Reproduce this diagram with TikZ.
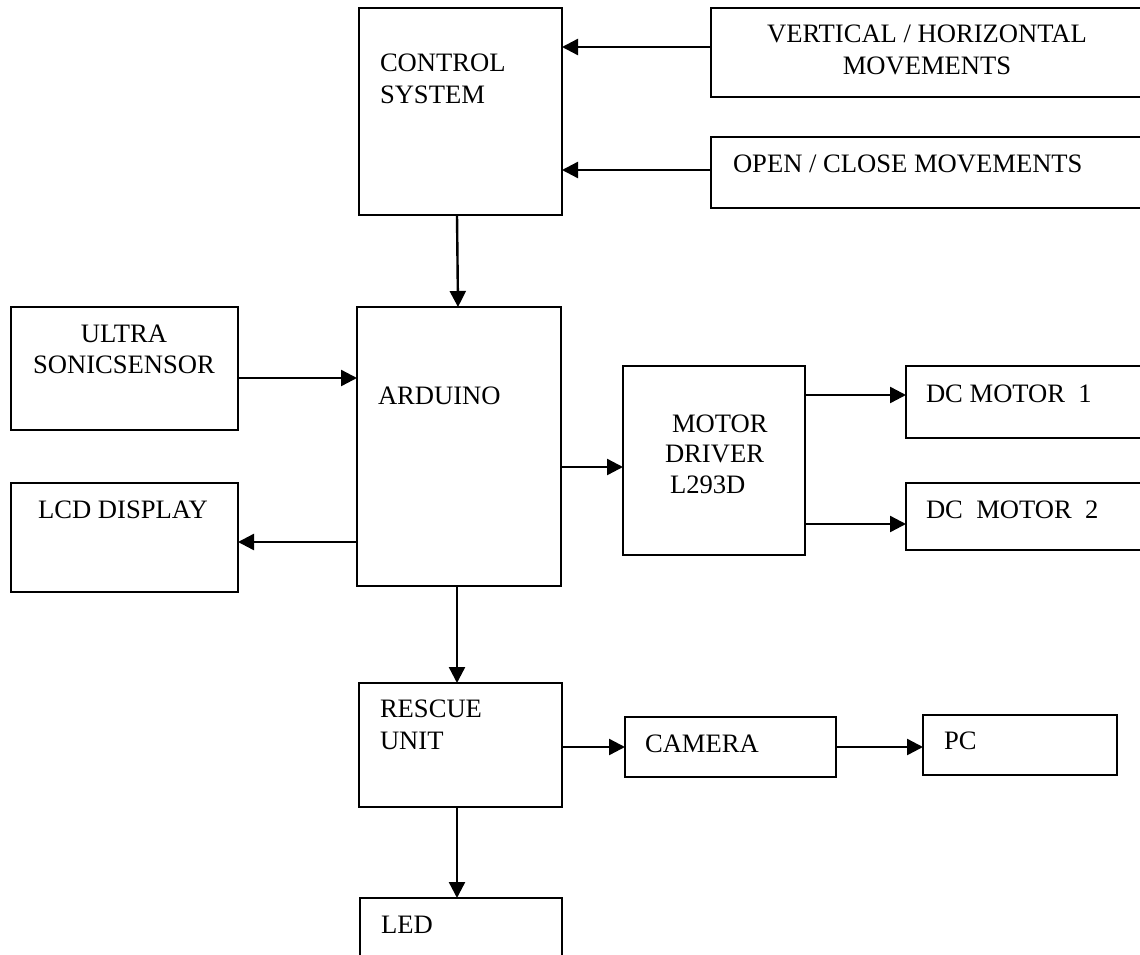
\documentclass[tikz,border=0pt]{standalone}
\usepackage{fontspec}
\setmainfont{Liberation Serif}
\usetikzlibrary{arrows.meta}
\begin{document}
\begin{tikzpicture}[x=1pt,y=-1pt,
  blk/.style={draw,line width=1.8pt,inner sep=0pt,outer sep=0pt,anchor=north west},
  lbl/.style={inner sep=0pt,outer sep=0pt,anchor=base west,font=\fontsize{26.6}{32}\selectfont},
  lblc/.style={inner sep=0pt,outer sep=0pt,anchor=base,font=\fontsize{26.6}{32}\selectfont},
  arr/.style={line width=2.4pt,-{Triangle[length=16pt,width=16pt]}}]
\useasboundingbox (0,0) rectangle (1140,955);
% boxes
\node[blk,minimum width=203pt,minimum height=207pt] (ctrl) at (359,8) {};
\node[blk,minimum width=440pt,minimum height=89pt] (vh) at (711,8) {};
\node[blk,minimum width=440pt,minimum height=71pt] (oc) at (711,137) {};
\node[blk,minimum width=227pt,minimum height=123pt] (us) at (11,307) {};
\node[blk,minimum width=204pt,minimum height=279pt] (ard) at (357,307) {};
\node[blk,minimum width=227pt,minimum height=109pt] (lcd) at (11,483) {};
\node[blk,minimum width=182pt,minimum height=189pt] (md) at (623,366) {};
\node[blk,minimum width=245pt,minimum height=72pt] (dc1) at (906,366) {};
\node[blk,minimum width=245pt,minimum height=67pt] (dc2) at (906,483) {};
\node[blk,minimum width=203pt,minimum height=124pt] (res) at (359,683) {};
\node[blk,minimum width=211pt,minimum height=60pt] (cam) at (625,717) {};
\node[blk,minimum width=194pt,minimum height=60pt] (pc) at (923,715) {};
\node[blk,minimum width=202pt,minimum height=80pt] (led) at (360,898) {};
% labels
\node[lbl] (tctrl1) at (380,72) {CONTROL};
\node[lbl] (tctrl2) at (380,104) {SYSTEM};
\node[lblc] (tvh1) at (927,43) {VERTICAL / HORIZONTAL};
\node[lblc] (tvh2) at (927,75) {MOVEMENTS};
\node[lbl] (toc) at (733,172) {OPEN / CLOSE MOVEMENTS};
\node[lblc] (tus1) at (124,342) {ULTRA};
\node[lblc] (tus2) at (124,373) {SONICSENSOR};
\node[lbl] (tard) at (378,404) {ARDUINO};
\node[lblc] (tlcd) at (123,518) {LCD DISPLAY};
\node[lbl] (tmd1) at (672,432) {MOTOR};
\node[lbl] (tmd2) at (665,462) {DRIVER};
\node[lbl] (tmd3) at (670,493) {L293D};
\node[lbl] (tdc1) at (926,402) {DC MOTOR\ \ 1};
\node[lbl] (tdc2) at (926,518) {DC\ \ MOTOR\ \ 2};
\node[lbl] (tres1) at (380,717) {RESCUE};
\node[lbl] (tres2) at (380,749) {UNIT};
\node[lbl] (tcam) at (645,752) {CAMERA};
\node[lbl] (tpc) at (944,749) {PC};
\node[lbl] (tled) at (381,933) {LED};
% connectors
\draw[arr] (vh.west |- 0,47) -- (ctrl.east |- 0,47);
\draw[arr] (oc.west |- 0,170) -- (ctrl.east |- 0,170);
\draw[arr] (ctrl.south -| 457,0) -- (ard.north -| 458,0);
\draw[arr] (us.east |- 0,378) -- (ard.west |- 0,378);
\draw[arr] (ard.west |- 0,542) -- (lcd.east |- 0,542);
\draw[arr] (ard.east |- 0,467) -- (md.west |- 0,467);
\draw[arr] (md.east |- 0,395) -- (dc1.west |- 0,395);
\draw[arr] (md.east |- 0,524) -- (dc2.west |- 0,524);
\draw[arr] (ard.south -| 457,0) -- (res.north -| 457,0);
\draw[arr] (res.east |- 0,747) -- (cam.west |- 0,747);
\draw[arr] (cam.east |- 0,747) -- (pc.west |- 0,747);
\draw[arr] (res.south -| 457,0) -- (led.north -| 457,0);
\end{tikzpicture}
\end{document}
